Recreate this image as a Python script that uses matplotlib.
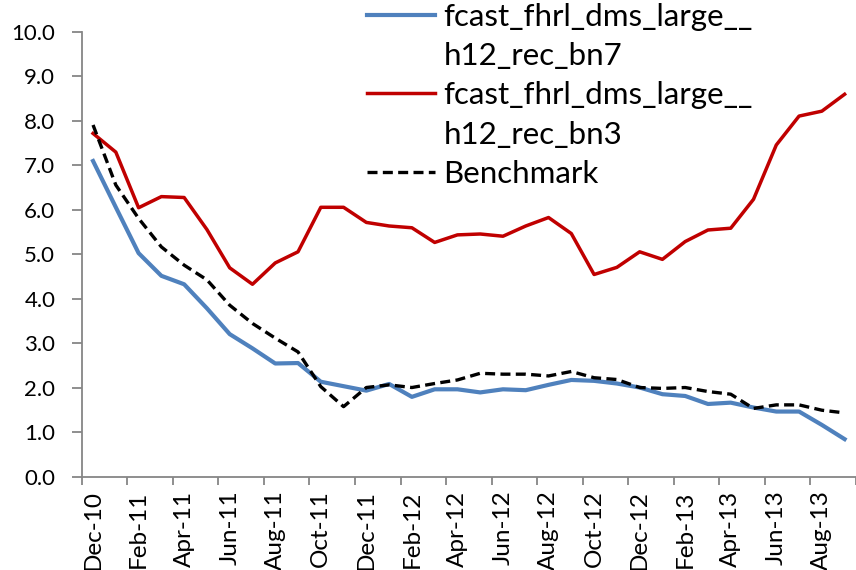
import numpy as np
import matplotlib
matplotlib.use("Agg")
import matplotlib.pyplot as plt
from matplotlib.lines import Line2D

# monthly values, Dec-10 .. Sep-13
months = ["Dec-10", "Jan-11", "Feb-11", "Mar-11", "Apr-11", "May-11", "Jun-11",
          "Jul-11", "Aug-11", "Sep-11", "Oct-11", "Nov-11", "Dec-11", "Jan-12",
          "Feb-12", "Mar-12", "Apr-12", "May-12", "Jun-12", "Jul-12", "Aug-12",
          "Sep-12", "Oct-12", "Nov-12", "Dec-12", "Jan-13", "Feb-13", "Mar-13",
          "Apr-13", "May-13", "Jun-13", "Jul-13", "Aug-13", "Sep-13"]

bn7 = [7.09, 6.05, 5.02, 4.51, 4.32, 3.78, 3.20, 2.88, 2.54, 2.55, 2.13, 2.03,
       1.93, 2.08, 1.79, 1.96, 1.96, 1.89, 1.96, 1.94, 2.06, 2.17, 2.15, 2.09,
       2.00, 1.85, 1.81, 1.63, 1.66, 1.55, 1.46, 1.46, 1.16, 0.84]
bn3 = [7.71, 7.29, 6.04, 6.29, 6.27, 5.55, 4.69, 4.32, 4.80, 5.05, 6.05, 6.05,
       5.71, 5.63, 5.59, 5.26, 5.43, 5.45, 5.40, 5.63, 5.82, 5.46, 4.54, 4.70,
       5.05, 4.88, 5.28, 5.54, 5.58, 6.23, 7.45, 8.10, 8.21, 8.59]
bench = [7.90, 6.55, 5.80, 5.16, 4.75, 4.42, 3.85, 3.44, 3.11, 2.80, 2.02, 1.57,
         2.00, 2.06, 2.00, 2.09, 2.17, 2.32, 2.30, 2.30, 2.26, 2.36, 2.22, 2.18,
         2.00, 1.98, 2.00, 1.91, 1.85, 1.53, 1.61, 1.61, 1.49, 1.43]

plt.rcParams['font.family'] = ['Lato', 'DejaVu Sans']

fig = plt.figure(figsize=(8.56, 5.70), dpi=100)
ax = fig.add_axes([0.0954, 0.164, 0.9046, 0.7807])

x = np.arange(len(months))
dash = (0, (3.0, 1.6))
ax.plot(x, bn7, color="#4F81BD", linewidth=3.0, zorder=3)
ax.plot(x, bn3, color="#C00000", linewidth=2.5, zorder=3)
ax.plot(x, bench, color="black", linewidth=2.4, linestyle=dash, zorder=4)

ax.set_ylim(0, 10)
ax.set_xlim(-0.5, 33.28)
yt = np.arange(0, 10.01, 1.0)
ax.set_yticks(yt)
ax.set_yticklabels(["%.1f" % v for v in yt], fontsize=16)

# tick marks between categories, labels on every other month
ax.set_xticks(np.arange(-0.5, 34, 2))
ax.set_xticklabels([])
ax.set_xticks(x[::2], minor=True)
ax.set_xticklabels(months[::2], minor=True, rotation=90, fontsize=17.5)
ax.tick_params(axis="x", which="minor", length=0, pad=10)
ax.tick_params(axis="x", which="major", length=6, color="#868686", width=1.3)
ax.tick_params(axis="y", length=7, color="#868686", width=1.3, pad=12)

for s in ["top", "right"]:
    ax.spines[s].set_visible(False)
for s in ["left", "bottom"]:
    ax.spines[s].set_color("#868686")
    ax.spines[s].set_linewidth(1.3)

handles = [Line2D([], [], color="#4F81BD", linewidth=3.0),
           Line2D([], [], color="none"),
           Line2D([], [], color="#C00000", linewidth=2.5),
           Line2D([], [], color="none"),
           Line2D([], [], color="black", linewidth=2.4, linestyle=dash)]
labels = ["fcast_fhrl_dms_large__", "h12_rec_bn7",
          "fcast_fhrl_dms_large__", "h12_rec_bn3", "Benchmark"]
fig.legend(handles, labels, loc="upper left", bbox_to_anchor=(0.4284, 0.995),
           frameon=False, fontsize=22.5, handlelength=2.2, handletextpad=0.25,
           labelspacing=0.36, borderpad=0, borderaxespad=0)

fig.savefig("out.png", dpi=100)
